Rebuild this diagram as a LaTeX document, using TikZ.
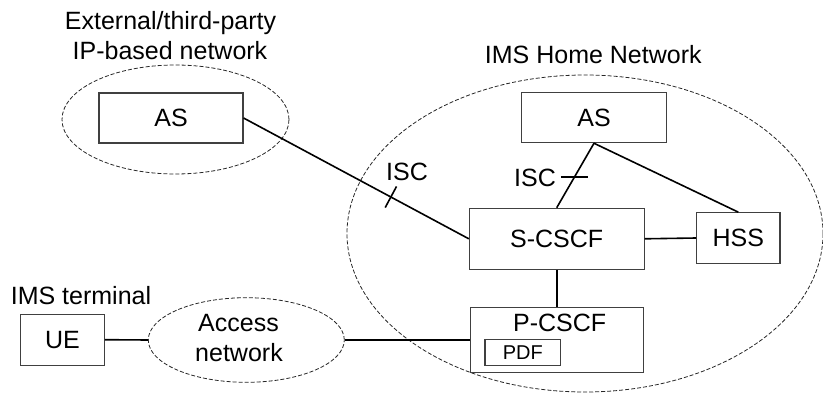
\documentclass[tikz,border=0pt]{standalone}
\usepackage{fontspec}
\setmainfont{Liberation Sans}
\usetikzlibrary{shapes.geometric,calc}
\begin{document}
\begin{tikzpicture}[x=1pt,y=-1pt,
  box/.style={draw=black!75, line width=1.1pt, inner sep=0pt, rectangle, font=\fontsize{25}{30}\selectfont},
  net/.style={draw=black!85, ellipse, dash pattern=on 4pt off 2pt, line width=0.8pt, inner sep=0pt},
  link/.style={line width=1.6pt, draw=black},
  lbl/.style={font=\fontsize{25}{30}\selectfont, inner sep=0pt, anchor=base},
  small/.style={font=\fontsize{20}{24}\selectfont}]
\useasboundingbox (0,0) rectangle (823,404);

% network clouds
\node[net, minimum width=476pt, minimum height=317pt] (home) at (585,233.5) {};
\node[net, minimum width=227pt, minimum height=109pt] (ext) at (175.5,119.5) {};
\node[net, minimum width=196pt, minimum height=84.6pt] (access) at (246.3,340) {};

% titles
\node[lbl] (extT1) at (170.5,30) {External/third-party};
\node[lbl] (extT2) at (170,60) {IP-based network};
\node[lbl] (homeT) at (593.3,63.3) {IMS Home Network};
\node[lbl] (ueT) at (81,304) {IMS terminal};
\node[lbl] (accT1) at (238.5,331.7) {Access};
\node[lbl] (accT2) at (239,361) {network};

% boxes
\node[box, minimum width=144pt, minimum height=50pt] (extAS) at (171,118) {AS};
\node[box, minimum width=144.3pt, minimum height=50.4pt] (homeAS) at (594,117.5) {AS};
\node[box, minimum width=174.7pt, minimum height=61pt] (scscf) at (556.7,238.8) {S-CSCF};
\node[box, minimum width=83.3pt, minimum height=50.6pt] (hss) at (738.3,238) {HSS};
\node[box, minimum width=173.3pt, minimum height=65.4pt] (pcscf) at (556.7,340) {};
\node[lbl] (pcscfT) at (559.7,331.7) {P-CSCF};
\node[box, small, minimum width=75.7pt, minimum height=26.4pt] (pdf) at (522.8,352.5) {PDF};
\node[box, minimum width=83.6pt, minimum height=50.7pt] (ue) at (62.5,339.7) {UE};

% connectors
\draw[link] (extAS.east) -- coordinate[pos=0.654] (t1) (scscf.west);
\draw[link] (homeAS.south) -- coordinate[pos=0.525] (t2) (scscf.north);
\draw[link] (homeAS.south) -- (hss.north);
\draw[link] (scscf.east) -- (hss.west);
\draw[link] (scscf.south) -- (pcscf.north);
\draw[link] (ue.east) -- (access.west);
\draw[link] (access.east) -- (pcscf.west);

% ISC ticks and labels
\draw[link] ($(t1)!12pt!90:(scscf.west)$) -- ($(t1)!12pt!-90:(scscf.west)$);
\draw[link] ([xshift=-13.5pt]t2) -- ([xshift=13.5pt]t2);
\node[lbl] (isc1) at (407,180.7) {ISC};
\node[lbl] (isc2) at (535,186.7) {ISC};
\end{tikzpicture}
\end{document}
